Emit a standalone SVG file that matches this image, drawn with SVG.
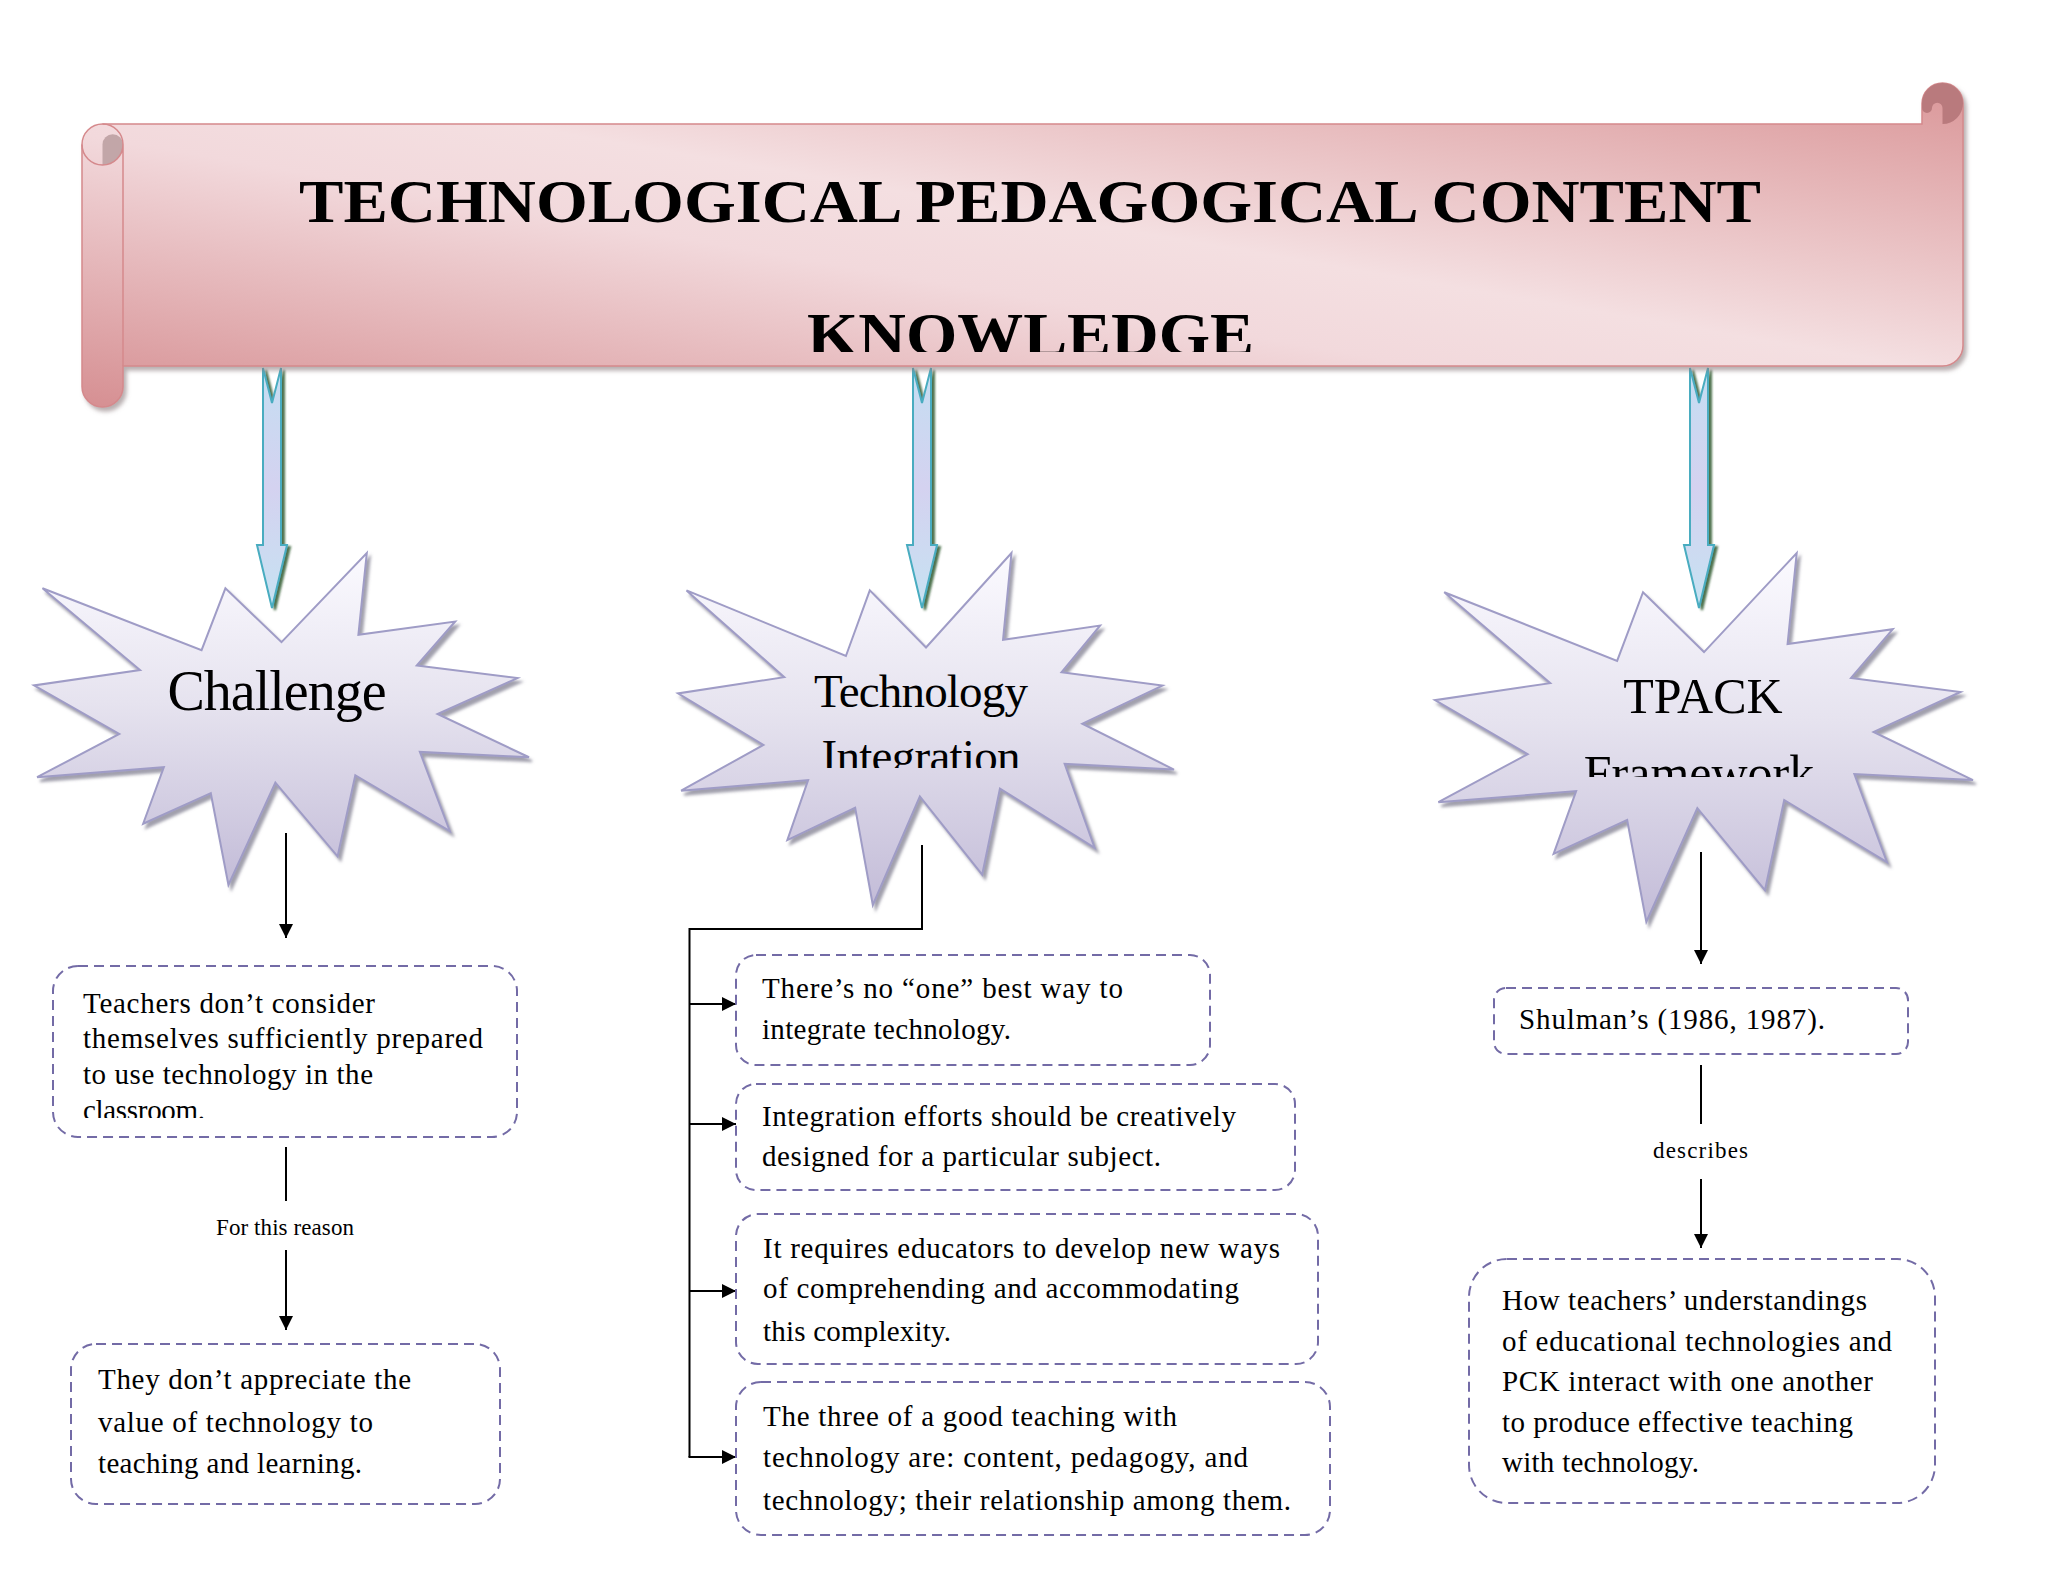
<svg xmlns="http://www.w3.org/2000/svg" width="2048" height="1582" viewBox="0 0 2048 1582">
<defs>
<style>
.t{font-family:"Liberation Serif","Times New Roman",serif;font-size:29px;fill:#000}
.lbl{font-family:"Liberation Serif","Times New Roman",serif;font-size:23px;fill:#000}
.st{font-family:"Liberation Serif","Times New Roman",serif;fill:#000;text-anchor:middle}
.title{font-family:"Liberation Serif","Times New Roman",serif;font-weight:bold;font-size:62px;fill:#000}
.box{fill:none;stroke:#736ba6;stroke-width:2;stroke-dasharray:10 6}
.conn{fill:none;stroke:#000;stroke-width:2}
.star{fill:url(#gStar);stroke:#9f9cc6;stroke-width:2}
.barrow{fill:url(#gArrow);stroke:#48acc0;stroke-width:2}
</style>
<linearGradient id="gBanner" x1="1" y1="0" x2="0" y2="1">
<stop offset="0" stop-color="#da9698"/>
<stop offset="0.45" stop-color="#f4dfe1"/>
<stop offset="0.58" stop-color="#f2d9dc"/>
<stop offset="1" stop-color="#d68f92"/>
</linearGradient>
<linearGradient id="gStar" x1="0" y1="0" x2="0" y2="1">
<stop offset="0" stop-color="#fbfaff"/>
<stop offset="0.45" stop-color="#e6e3ef"/>
<stop offset="1" stop-color="#c3bcd8"/>
</linearGradient>
<linearGradient id="gArrow" x1="0" y1="0" x2="0" y2="1">
<stop offset="0" stop-color="#c4def2"/>
<stop offset="0.5" stop-color="#d4d2f0"/>
<stop offset="1" stop-color="#c6e2f2"/>
</linearGradient>
<filter id="shStar" x="-10%" y="-10%" width="125%" height="125%">
<feDropShadow dx="3" dy="4" stdDeviation="1.5" flood-color="#6e6c80" flood-opacity="0.65"/>
</filter>
<filter id="shBanner" x="-5%" y="-10%" width="110%" height="125%">
<feDropShadow dx="3" dy="4" stdDeviation="2" flood-color="#8a7a7c" flood-opacity="0.6"/>
</filter>
<filter id="shArrow" x="-50%" y="-10%" width="200%" height="125%">
<feDropShadow dx="3" dy="2" stdDeviation="0.8" flood-color="#2f5a2f" flood-opacity="0.85"/>
</filter>
<marker id="ah" viewBox="0 0 10 10" refX="10" refY="5" markerWidth="15" markerHeight="14" markerUnits="userSpaceOnUse" orient="auto">
<path d="M0,0 L10,5 L0,10 z" fill="#000"/>
</marker>
<clipPath id="clipTitle"><rect x="0" y="0" width="2048" height="352"/></clipPath>
<clipPath id="clipTech"><rect x="600" y="600" width="700" height="168"/></clipPath>
<clipPath id="clipTpack"><rect x="1400" y="600" width="700" height="177"/></clipPath>
<clipPath id="clipBox1"><rect x="40" y="960" width="500" height="158"/></clipPath>
<polygon id="seal" vector-effect="non-scaling-stroke" points="10800,5800 14522,0 14155,5325 18380,4457 16702,7315 21097,8137 17607,10475 21600,13290 16837,12942 18145,18095 14020,14457 13247,19737 10532,14935 8485,21600 7715,15627 4762,17617 5667,13937 135,14587 3722,11775 0,8615 4627,7617 370,2295 7312,6320 8352,2295"/>
</defs>
<rect width="2048" height="1582" fill="#ffffff"/>

<g id="connectors">
<g id="block-arrows" filter="url(#shArrow)">
<path class="barrow" d="M263,368 L272,403 L281,368 L281,545 L287,545 L272,608 L257,545 L263,545 Z"/>
<path class="barrow" d="M913,368 L922,403 L931,368 L931,545 L937,545 L922,608 L907,545 L913,545 Z"/>
<path class="barrow" d="M1690,368 L1699,403 L1708,368 L1708,545 L1714,545 L1699,608 L1684,545 L1690,545 Z"/>
</g>
<line class="conn" x1="286" y1="833" x2="286" y2="938" marker-end="url(#ah)"/>
<line class="conn" x1="286" y1="1147" x2="286" y2="1201"/>
<line class="conn" x1="286" y1="1250" x2="286" y2="1330" marker-end="url(#ah)"/>
<polyline class="conn" points="922,845 922,929 689.5,929 689.5,1457"/>
<line class="conn" x1="689.5" y1="1004" x2="736" y2="1004" marker-end="url(#ah)"/>
<line class="conn" x1="689.5" y1="1124" x2="736" y2="1124" marker-end="url(#ah)"/>
<line class="conn" x1="689.5" y1="1291" x2="736" y2="1291" marker-end="url(#ah)"/>
<line class="conn" x1="688.5" y1="1457" x2="736" y2="1457" marker-end="url(#ah)"/>
<line class="conn" x1="1701" y1="852" x2="1701" y2="964" marker-end="url(#ah)"/>
<line class="conn" x1="1701" y1="1065" x2="1701" y2="1124"/>
<line class="conn" x1="1701" y1="1179" x2="1701" y2="1248" marker-end="url(#ah)"/>
<text class="lbl" x="216" y="1235" textLength="138" lengthAdjust="spacing">For this reason</text>
<text class="lbl" x="1653" y="1158" textLength="95" lengthAdjust="spacing">describes</text>
</g>

<g id="banner">
<path d="M82,144.5 A20.5,20.5 0 0 1 102.5,124 L1922,124 L1922,103.5 A20.5,20.5 0 0 1 1963,103.5 L1963,345.5 A20.5,20.5 0 0 1 1942.5,366 L123,366 L123,386.5 A20.5,20.5 0 0 1 82,386.5 Z" fill="url(#gBanner)" stroke="#d5898c" stroke-width="1.5" filter="url(#shBanner)"/>
<path d="M102.5,144.5 A10.25,10.25 0 0 1 123,144.5 A20.5,20.5 0 0 1 102.5,165 Z" fill="#c2a6a8"/>
<path d="M1922,103.5 A20.5,20.5 0 0 1 1963,103.5 A20.5,20.5 0 0 1 1942.5,124 L1942.5,108 A5.25,5.25 0 0 0 1932,108 A5,5 0 0 1 1922,108 Z" fill="#b97a7d"/>
<path d="M82,144.5 A20.5,20.5 0 0 0 123,144.5 M102.5,124 A20.5,20.5 0 0 1 123,144.5 L123,366" fill="none" stroke="#d5898c" stroke-width="1.5"/>
<text class="title" x="299" y="222" textLength="1462" lengthAdjust="spacingAndGlyphs">TECHNOLOGICAL PEDAGOGICAL CONTENT</text>
<g clip-path="url(#clipTitle)">
<text class="title" x="807" y="355" textLength="447" lengthAdjust="spacingAndGlyphs">KNOWLEDGE</text>
</g>
</g>

<g id="star-challenge">
<g filter="url(#shStar)"><use href="#seal" class="star" transform="translate(34,553) scale(0.0229167,0.0153704)"/></g>
<text class="st" x="277" y="710" font-size="56" textLength="219" lengthAdjust="spacing">Challenge</text>
</g>

<g id="star-technology-integration">
<g filter="url(#shStar)"><use href="#seal" class="star" transform="translate(678,553) scale(0.0229630,0.0162963)"/></g>
<text class="st" x="921" y="707" font-size="47" textLength="214" lengthAdjust="spacing">Technology</text>
<g clip-path="url(#clipTech)">
<text class="st" x="921" y="772" font-size="47" textLength="199" lengthAdjust="spacing">Integration</text>
</g>
</g>

<g id="star-tpack">
<g filter="url(#shStar)"><use href="#seal" class="star" transform="translate(1435,553) scale(0.0249074,0.0170833)"/></g>
<text class="st" x="1703" y="713" font-size="50">TPACK</text>
<g clip-path="url(#clipTpack)">
<text class="st" x="1699" y="790" font-size="50">Framework</text>
</g>
</g>

<g id="box-challenge-1">
<rect class="box" x="53" y="966" width="464" height="171" rx="25"/>
<g clip-path="url(#clipBox1)">
<text class="t" x="83" y="1013" textLength="292" lengthAdjust="spacing">Teachers don’t consider</text>
<text class="t" x="83" y="1048" textLength="400" lengthAdjust="spacing">themselves sufficiently prepared</text>
<text class="t" x="83" y="1084" textLength="290" lengthAdjust="spacing">to use technology in the</text>
<text class="t" x="83" y="1120" textLength="122" lengthAdjust="spacing">classroom.</text>
</g>
</g>

<g id="box-challenge-2">
<rect class="box" x="71" y="1344" width="429" height="160" rx="25"/>
<text class="t" x="98" y="1389" textLength="313" lengthAdjust="spacing">They don’t appreciate the</text>
<text class="t" x="98" y="1432" textLength="275" lengthAdjust="spacing">value of technology to</text>
<text class="t" x="98" y="1473" textLength="264" lengthAdjust="spacing">teaching and learning.</text>
</g>

<g id="box-ti-1">
<rect class="box" x="736" y="955" width="474" height="110" rx="20"/>
<text class="t" x="762" y="998" textLength="361" lengthAdjust="spacing">There’s no “one” best way to</text>
<text class="t" x="762" y="1039" textLength="249" lengthAdjust="spacing">integrate technology.</text>
</g>

<g id="box-ti-2">
<rect class="box" x="736" y="1084" width="559" height="106" rx="20"/>
<text class="t" x="762" y="1126" textLength="474" lengthAdjust="spacing">Integration efforts should be creatively</text>
<text class="t" x="762" y="1166" textLength="399" lengthAdjust="spacing">designed for a particular subject.</text>
</g>

<g id="box-ti-3">
<rect class="box" x="736" y="1214" width="582" height="150" rx="22"/>
<text class="t" x="763" y="1258" textLength="517" lengthAdjust="spacing">It requires educators to develop new ways</text>
<text class="t" x="763" y="1298" textLength="476" lengthAdjust="spacing">of comprehending and accommodating</text>
<text class="t" x="763" y="1341" textLength="188" lengthAdjust="spacing">this complexity.</text>
</g>

<g id="box-ti-4">
<rect class="box" x="736" y="1382" width="594" height="153" rx="25"/>
<text class="t" x="763" y="1426" textLength="414" lengthAdjust="spacing">The three of a good teaching with</text>
<text class="t" x="763" y="1467" textLength="485" lengthAdjust="spacing">technology are: content, pedagogy, and</text>
<text class="t" x="763" y="1510" textLength="528" lengthAdjust="spacing">technology; their relationship among them.</text>
</g>

<g id="box-shulman">
<rect class="box" x="1494" y="988" width="414" height="66" rx="12"/>
<text class="t" x="1519" y="1029" textLength="306" lengthAdjust="spacing">Shulman’s (1986, 1987).</text>
</g>

<g id="box-tpack-desc">
<rect class="box" x="1469" y="1259" width="466" height="244" rx="38"/>
<text class="t" x="1502" y="1310" textLength="365" lengthAdjust="spacing">How teachers’ understandings</text>
<text class="t" x="1502" y="1351" textLength="390" lengthAdjust="spacing">of educational technologies and</text>
<text class="t" x="1502" y="1391" textLength="371" lengthAdjust="spacing">PCK interact with one another</text>
<text class="t" x="1502" y="1432" textLength="351" lengthAdjust="spacing">to produce effective teaching</text>
<text class="t" x="1502" y="1472" textLength="197" lengthAdjust="spacing">with technology.</text>
</g>
</svg>
